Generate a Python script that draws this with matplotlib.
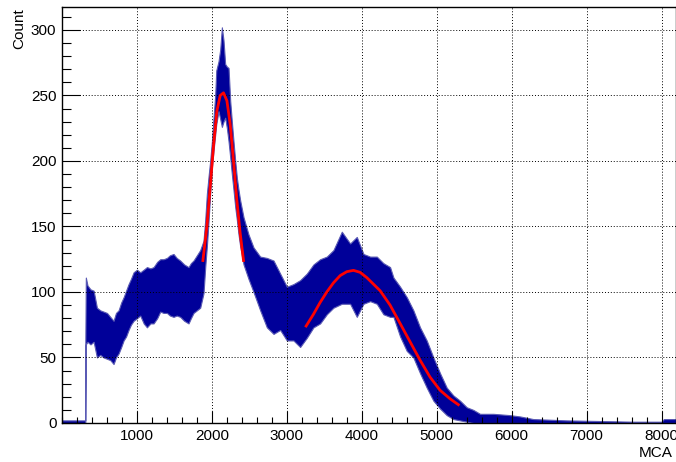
import numpy as np
import matplotlib
matplotlib.use("Agg")
import matplotlib.pyplot as plt
from matplotlib.ticker import MultipleLocator

plt.rcParams['font.family'] = ['Liberation Sans', 'DejaVu Sans']

# histogram band: channel, upper and lower edge of the noisy trace
channel = [0, 300, 310, 311, 318, 340, 380, 422, 466, 510, 555, 600, 644, 688, 720, 755,
           790, 822, 855, 888, 920, 955, 1000, 1044, 1090, 1133, 1180, 1222, 1270, 1311,
           1355, 1400, 1440, 1488, 1530, 1577, 1630, 1688, 1720, 1755, 1800, 1844, 1888,
           1911, 1933, 1955, 1977, 2000, 2022, 2044, 2058, 2088, 2111, 2133, 2155, 2177,
           2200, 2222, 2244, 2266, 2288, 2311, 2333, 2355, 2377, 2422, 2488, 2555, 2644,
           2733, 2822, 2911, 3000, 3088, 3177, 3266, 3355, 3444, 3533, 3622, 3733, 3844,
           3933, 4022, 4111, 4200, 4288, 4377, 4422, 4511, 4600, 4688, 4777, 4866, 4955,
           5044, 5133, 5222, 5311, 5400, 5488, 5577, 5755, 5977, 6111, 6288, 6733, 7177,
           7622, 8000, 8030, 8192]
upper = [2, 2, 2, 59, 111, 105, 102, 101, 88, 86, 85, 84, 81, 78, 84, 86,
         92, 96, 101, 106, 110, 115, 117, 115, 117, 119, 118, 119, 123, 125,
         125, 126, 128, 129, 126, 124, 121, 119, 122, 124, 128, 132, 139,
         155, 175, 188, 200, 215, 233, 250, 269, 276, 285, 302, 292, 274,
         272, 271, 246, 230, 215, 200, 187, 178, 170, 157, 144, 134, 127,
         126, 124, 114, 104, 106, 109, 114, 121, 125, 127, 132, 146, 137,
         142, 129, 127, 127, 122, 119, 111, 104, 96, 86, 73, 63, 50,
         38, 27, 21, 17, 12, 10, 7, 7, 6, 5, 3, 2, 1.5,
         1, 1, 3, 3]
lower = [0, 0, 0, 0, 60, 62, 60, 62, 50, 52, 50, 49, 48, 45, 50, 53,
         58, 63, 66, 71, 75, 78, 80, 82, 76, 73, 76, 76, 80, 85,
         84, 84, 82, 81, 82, 81, 78, 76, 80, 84, 86, 88, 99,
         119, 135, 154, 175, 195, 208, 220, 228, 238, 232, 226, 230, 233,
         225, 215, 203, 190, 178, 165, 155, 144, 135, 121, 110, 100, 86,
         73, 68, 71, 63, 63, 58, 65, 73, 76, 83, 88, 91, 91,
         81, 91, 93, 91, 83, 81, 81, 66, 55, 50, 38, 27, 17,
         11, 6, 3, 2, 1, 0, 0, 0, 0, 0, 0, 0, 0,
         0, 0, 0, 0]

# fitted curves (red)
fit1_x = [1880, 1933, 1977, 2022, 2066, 2111, 2155, 2200, 2244, 2288, 2333, 2377, 2422]
fit1_y = [124, 150, 180, 212, 238, 250, 252, 246, 228, 200, 170, 145, 124]
fit2_x = [3257, 3355, 3444, 3533, 3622, 3711, 3800, 3889, 3977, 4066, 4155, 4244,
          4377, 4511, 4644, 4777, 4911, 5044, 5177, 5288]
fit2_y = [74, 83, 92, 100, 107, 112.5, 115.5, 116.5, 115, 111, 106, 101,
          90, 76, 62, 48, 35, 25, 18.5, 14]

fig = plt.figure(figsize=(6.76, 4.62), dpi=100)
ax = fig.add_axes([62 / 676, 1 - 423 / 462, 1 - 62 / 676, (423 - 7) / 462])

ax.fill_between(channel, lower, upper, color='#000099', linewidth=0.8,
                edgecolor='#5a5ab4', zorder=2)
ax.plot(fit1_x, fit1_y, color='red', lw=2, zorder=3)
ax.plot(fit2_x, fit2_y, color='red', lw=2, zorder=3)

ax.set_xlim(0, 8192)
ax.set_ylim(0, 317.5)

ax.xaxis.set_major_locator(MultipleLocator(1000))
ax.xaxis.set_minor_locator(MultipleLocator(200))
ax.yaxis.set_major_locator(MultipleLocator(50))
ax.yaxis.set_minor_locator(MultipleLocator(10))
ax.set_xticks([1000, 2000, 3000, 4000, 5000, 6000, 7000, 8000])

ax.tick_params(axis='x', which='major', direction='in', length=9, width=0.8,
               labelsize=11, pad=4)
ax.tick_params(axis='x', which='minor', direction='in', length=4.5, width=0.8)
ax.tick_params(axis='y', which='major', direction='in', length=13, width=0.8,
               labelsize=11, pad=4)
ax.tick_params(axis='y', which='minor', direction='in', length=6.5, width=0.8)

ax.grid(True, which='major', color='black', linestyle=(0, (1, 2)), linewidth=0.7)
ax.set_axisbelow(False)
for s in ax.spines.values():
    s.set_linewidth(1)

fig.text(19 / 676, 1 - 8 / 462, 'Count', rotation=90, ha='center', va='top', fontsize=11)
fig.text(673 / 676, 1 - 453 / 462, 'MCA', ha='right', va='center', fontsize=11)

fig.savefig('out.png', dpi=100)
